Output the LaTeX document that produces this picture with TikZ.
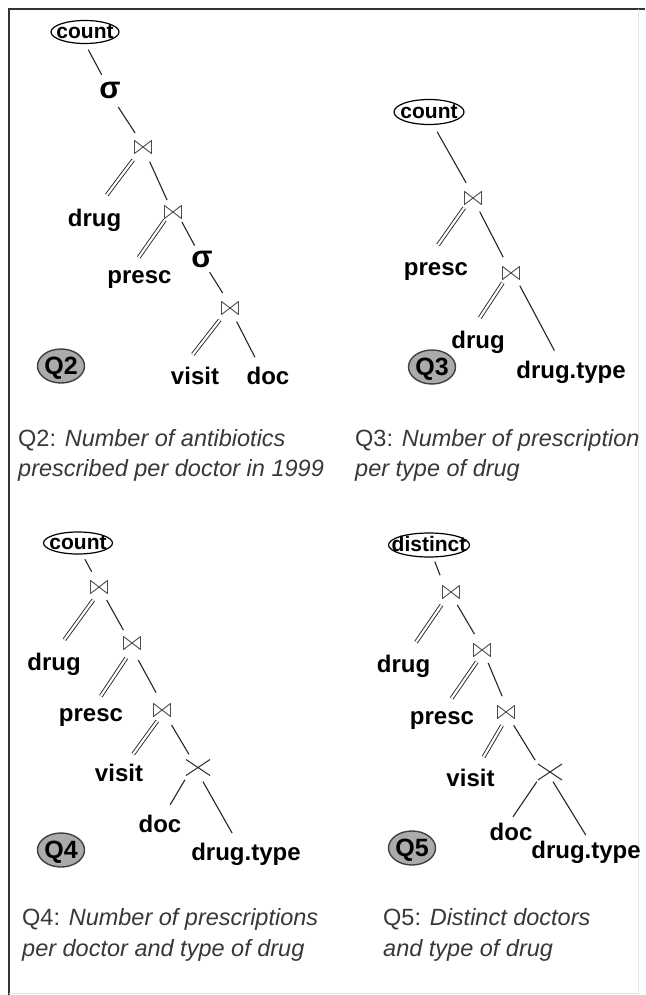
\documentclass[tikz,border=0pt]{standalone}
\usepackage{fontspec}
\setmainfont{Liberation Sans}
\usetikzlibrary{shapes.geometric}
\begin{document}
\begin{tikzpicture}[x=1pt,y=-1pt,
  one/.style={draw=black!85, line width=1.1pt},
  two/.style={draw=black!85, line width=0.9pt, double=white, double distance=2.2pt},
  bow/.style={minimum width=17pt, minimum height=13pt, inner sep=0pt, outer sep=0pt},
  bowline/.style={draw=black!70, line width=0.9pt, line join=round},
  crs/.style={minimum width=24pt, minimum height=16pt, inner sep=0pt, outer sep=0pt},
  crsline/.style={draw=black!80, line width=1pt},
  lab/.style={inner sep=0pt, outer sep=0pt, anchor=base, font=\fontsize{24}{28}\selectfont\bfseries},
  sig/.style={inner sep=0pt, outer sep=0pt, minimum width=20pt, minimum height=18pt, font=\fontsize{31}{31}\selectfont\bfseries},
  opbox/.style={ellipse, draw=black, line width=1.2pt, fill=white, inner sep=0pt, outer sep=0pt, minimum height=23pt, text height=12.5pt, text depth=0pt, font=\fontsize{21}{21}\selectfont\bfseries},
  qmark/.style={ellipse, draw=black!75, line width=1.4pt, fill=black!33, inner sep=0pt, minimum width=47pt, minimum height=34pt, text height=17pt, text depth=0pt, font=\fontsize{25}{25}\selectfont\bfseries},
  captext/.style={inner sep=0pt, anchor=base west, text=black!78, font=\fontsize{23.5}{28}\selectfont},
  frm/.style={draw=black!80, line width=2pt},
  frmlight/.style={draw=black!10, line width=1pt}
]
\useasboundingbox (0,0) rectangle (645,995);
\fill[white] (0,0) rectangle (645,995);
% frame
\draw[frm] (9,995) -- (9,9) -- (645,9);
\draw[frmlight] (638,9) -- (638,993) -- (9,993);

% ---------- Q2 ----------
\node[opbox, minimum width=68pt] (c2) at (85,32) {\makebox[0pt]{count}};
\node[sig] (s2a) at (110,90) {σ};
\node[bow] (j2a) at (143,147) {};
\node[lab] (drug2) at (94.5,226) {drug};
\node[bow] (j2b) at (173,212) {};
\node[lab] (presc2) at (139.5,283.5) {presc};
\node[sig] (s2b) at (202,259) {σ};
\node[bow] (j2c) at (230,308) {};
\node[lab] (visit2) at (195,384.5) {visit};
\node[lab] (doc2) at (268,384.5) {doc};
\node[qmark] (q2) at (61,366) {\makebox[0pt]{Q2}};

% ---------- Q3 ----------
\node[opbox, minimum width=70pt, minimum height=25pt] (c3) at (429,112) {\makebox[0pt]{count}};
\node[bow] (j3a) at (473,198) {};
\node[lab] (presc3) at (436,275) {presc};
\node[bow] (j3b) at (511,273) {};
\node[lab] (drug3) at (478,348.5) {drug};
\node[lab] (dt3) at (571,378.5) {drug.type};
\node[qmark] (q3) at (432,367) {\makebox[0pt]{Q3}};

% ---------- Q4 ----------
\node[opbox, minimum width=69pt, minimum height=22pt] (c4) at (78,543) {\makebox[0pt]{count}};
\node[bow] (j4a) at (99,587) {};
\node[lab] (drug4) at (54,670) {drug};
\node[bow] (j4b) at (132,643) {};
\node[lab] (presc4) at (91,721.5) {presc};
\node[bow] (j4c) at (162,710) {};
\node[lab] (visit4) at (119,781.5) {visit};
\node[crs] (x4) at (198,767.5) {};
\node[lab] (doc4) at (160,832.5) {doc};
\node[lab] (dt4) at (246,860) {drug.type};
\node[qmark] (q4) at (61,850) {\makebox[0pt]{Q4}};

% ---------- Q5 ----------
\node[opbox, minimum width=81pt, minimum height=24pt] (c5) at (429,545) {\makebox[0pt]{distinct}};
\node[bow] (j5a) at (451,592) {};
\node[lab] (drug5) at (403.5,672) {drug};
\node[bow] (j5b) at (482,650) {};
\node[lab] (presc5) at (442,724.5) {presc};
\node[bow] (j5c) at (506,712) {};
\node[lab] (visit5) at (470.5,786.5) {visit};
\node[crs] (x5) at (550,772) {};
\node[lab] (doc5) at (511,840) {doc};
\node[lab] (dt5) at (586,858.5) {drug.type};
\node[qmark] (q5) at (412,848) {\makebox[0pt]{Q5}};

% glyphs
\foreach \n in {j2a,j2b,j2c,j3a,j3b,j4a,j4b,j4c,j5a,j5b,j5c}
  \draw[bowline] (\n.north west) -- (\n.south west) -- (\n.north east) -- (\n.south east) -- cycle;
\foreach \n in {x4,x5}
  \draw[crsline] (\n.north west) -- (\n.south east) (\n.south west) -- (\n.north east);

% ---------- connectors Q2 ----------
\draw[one, shorten <=7pt, shorten >=7pt] (c2.south) -- ([xshift=-5pt]s2a.north);
\draw[one, shorten <=9.5pt, shorten >=9pt] ([xshift=3pt]s2a.south) -- ([xshift=-3pt]j2a.north);
\draw[two, shorten <=8pt, shorten >=17pt] ([xshift=-5pt]j2a.south) -- ([xshift=2pt]drug2.north);
\draw[one, shorten <=9pt, shorten >=6pt] ([xshift=3pt]j2a.south) -- ([xshift=-3.5pt]j2b.north);
\draw[two, shorten <=2pt, shorten >=16pt] ([xshift=-7pt]j2b.south) -- ([xshift=-10pt]presc2.north);
\draw[one, shorten <=4pt, shorten >=5pt] ([xshift=7pt]j2b.south) -- ([xshift=-5pt]s2b.north);
\draw[one, shorten <=5pt, shorten >=10pt] ([xshift=5pt]s2b.south) -- ([xshift=-2pt]j2c.north);
\draw[two, shorten <=7pt, shorten >=16pt] ([xshift=-6pt]j2c.south) -- ([xshift=-12pt]visit2.north);
\draw[one, shorten <=8pt, shorten >=11pt] ([xshift=3pt]j2c.south) -- ([xshift=-8pt]doc2.north);

% ---------- connectors Q3 ----------
\draw[one, shorten <=8.5pt, shorten >=10pt] ([xshift=4pt]c3.south) -- ([xshift=-2pt]j3a.north);
\draw[two, shorten <=4pt, shorten >=21pt] ([xshift=-6.5pt]j3a.south) -- ([xshift=-10pt]presc3.north);
\draw[one, shorten <=8pt, shorten >=10.5pt] ([xshift=3pt]j3a.south) -- ([xshift=-3pt]j3b.north);
\draw[two, shorten <=4pt, shorten >=16pt] ([xshift=-6pt]j3b.south) -- ([xshift=-7pt]drug3.north);
\draw[one, shorten <=7pt, shorten >=12pt] ([xshift=5.5pt]j3b.south) -- ([xshift=-11pt]dt3.north);

% ---------- connectors Q4 ----------
\draw[one, shorten <=6pt, shorten >=10pt] ([xshift=4pt]c4.south) -- ([xshift=-2.5pt]j4a.north);
\draw[two, shorten <=8pt, shorten >=16pt] ([xshift=-1pt]j4a.south) -- ([xshift=1pt]drug4.north);
\draw[one, shorten <=7.5pt, shorten >=7.5pt] ([xshift=4pt]j4a.south) -- ([xshift=-5pt]j4b.north);
\draw[two, shorten <=10pt, shorten >=15pt] (j4b.south) -- ([xshift=1.5pt]presc4.north);
\draw[one, shorten <=12pt, shorten >=12.5pt] ([xshift=0.5pt]j4b.south) -- (j4c.north);
\draw[two, shorten <=5.5pt, shorten >=12.5pt] ([xshift=-1.5pt]j4c.south) -- ([xshift=7pt]visit4.north);
\draw[one, shorten <=10pt, shorten >=6pt] ([xshift=4.5pt]j4c.south) -- ([xshift=-6pt]x4.north);
\draw[one, shorten <=5pt, shorten >=12pt] ([xshift=-10.5pt]x4.south) -- ([xshift=4pt]doc4.north);
\draw[one, shorten <=7pt, shorten >=11pt] ([xshift=1.5pt]x4.south) -- ([xshift=-8.5pt]dt4.north);

% ---------- connectors Q5 ----------
\draw[one, shorten <=5pt, shorten >=11pt] ([xshift=4pt]c5.south) -- ([xshift=-7pt]j5a.north);
\draw[two, shorten <=8pt, shorten >=15pt] ([xshift=-5pt]j5a.south) -- ([xshift=4pt]drug5.north);
\draw[one, shorten <=7.5pt, shorten >=11pt] ([xshift=2.5pt]j5a.south) -- ([xshift=-2pt]j5b.north);
\draw[two, shorten <=6.5pt, shorten >=16pt] ([xshift=-1.5pt]j5b.south) -- ([xshift=0.5pt]presc5.north);
\draw[one, shorten <=7pt, shorten >=10pt] ([xshift=3.5pt]j5b.south) -- (j5c.north);
\draw[two, shorten <=8pt, shorten >=14pt] (j5c.south) -- ([xshift=6pt]visit5.north);
\draw[one, shorten <=8pt, shorten >=4.5pt] ([xshift=3.5pt]j5c.south) -- ([xshift=-12.5pt]x5.north);
\draw[one, shorten <=2pt, shorten >=7pt] ([xshift=-12pt]x5.south) -- ([xshift=-2pt]doc5.north);
\draw[one, shorten <=2pt, shorten >=7pt] ([xshift=2pt]x5.south) -- ([xshift=3.5pt]dt5.north);

% ---------- captions ----------
\node[captext] (t2a) at (18,446) {Q2: \textit{Number of antibiotics}};
\node[captext] (t2b) at (18,476) {\textit{prescribed per doctor in 1999}};
\node[captext] (t3a) at (355,446) {Q3: \textit{Number of prescription}};
\node[captext] (t3b) at (355,476) {\textit{per type of drug}};
\node[captext] (t4a) at (22,925) {Q4: \textit{Number of prescriptions}};
\node[captext] (t4b) at (22,956) {\textit{per doctor and type of drug}};
\node[captext] (t5a) at (383,925) {Q5: \textit{Distinct doctors}};
\node[captext] (t5b) at (383,956) {\textit{and type of drug}};
\end{tikzpicture}
\end{document}
